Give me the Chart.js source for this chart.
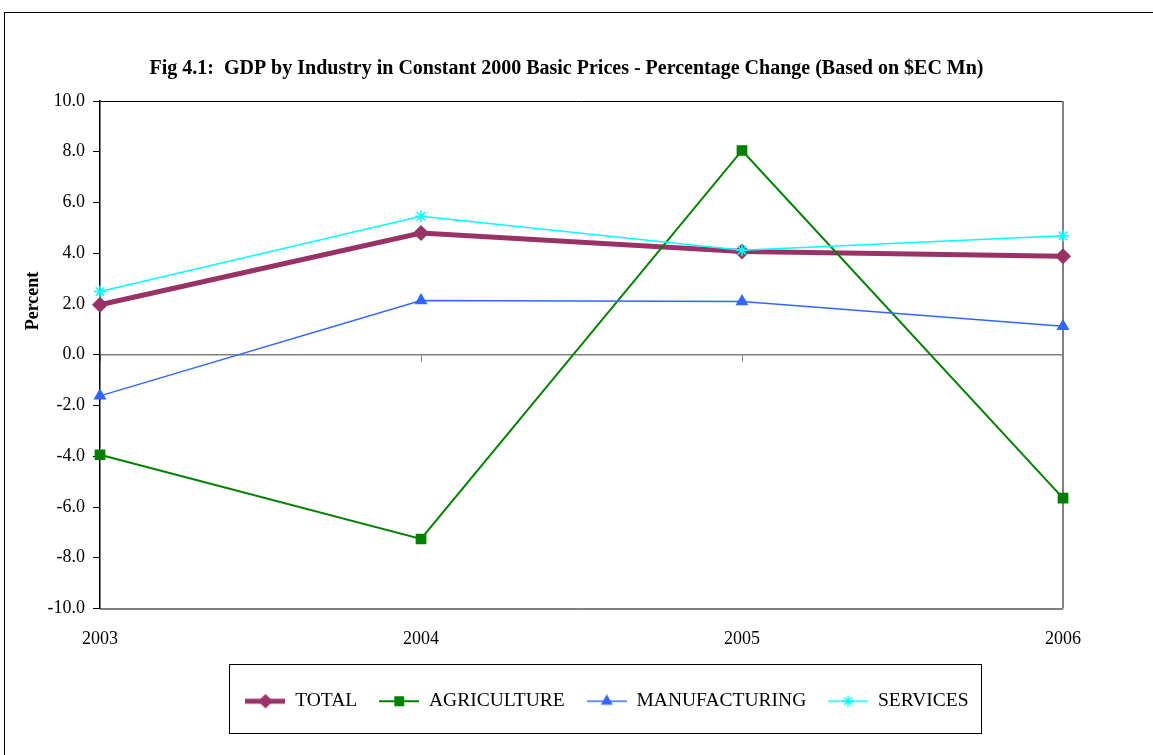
<!DOCTYPE html>
<html>
<head>
<meta charset="utf-8">
<script src="https://cdn.jsdelivr.net/npm/chart.js@4/dist/chart.umd.min.js"></script>
<style>
  html, body { margin: 0; padding: 0; background: #fff; }
  #wrap { position: relative; width: 1153px; height: 755px; }
</style>
</head>
<body>
<div id="wrap"><canvas id="c"></canvas></div>
<script>
// ---- data ----
const years = ['2003', '2004', '2005', '2006'];
const total = [1.97, 4.80, 4.07, 3.88];
const agriculture = [-3.94, -7.26, 8.05, -5.65];
const manufacturing = [-1.62, 2.14, 2.10, 1.12];
const services = [2.49, 5.46, 4.12, 4.69];
const seriesNames = ['TOTAL', 'AGRICULTURE', 'MANUFACTURING', 'SERVICES'];
const yTicks = [-10, -8, -6, -4, -2, 0, 2, 4, 6, 8, 10];
const titleText = 'Fig 4.1:  GDP by Industry in Constant 2000 Basic Prices - Percentage Change (Based on $EC Mn)';
const yTitle = 'Percent';

const FONT = "'Liberation Serif', 'Times New Roman', serif";

const styles = [
  { color: '#993366', width: 5, point: 'rectRot', radius: 7 },
  { color: '#008000', width: 2, point: 'rect', radius: 6.5 },
  { color: '#3366FF', width: 1.5, point: 'triangle', radius: 6 },
  { color: '#00FFFF', width: 1.5, point: 'star', radius: 6 }
];
const seriesData = [total, agriculture, manufacturing, services];

function makeSymbol(st) {
  const c = document.createElement('canvas');
  c.width = 40; c.height = 18;
  const ctx = c.getContext('2d');
  ctx.strokeStyle = st.color;
  ctx.lineWidth = st.width;
  ctx.beginPath(); ctx.moveTo(0, 9); ctx.lineTo(40, 9); ctx.stroke();
  ctx.fillStyle = st.color;
  ctx.strokeStyle = st.color;
  ctx.lineWidth = 1.5;
  Chart.helpers.drawPoint(ctx, { pointStyle: st.point, radius: st.radius * 0.9, borderWidth: 1.5, rotation: 0 }, 20, 9);
  return c;
}
const symbols = styles.map(makeSymbol);

const datasets = seriesNames.map((name, i) => ({
  label: name,
  data: seriesData[i],
  borderColor: styles[i].color,
  backgroundColor: styles[i].color,
  borderWidth: styles[i].width,
  pointStyle: styles[i].point,
  pointRadius: styles[i].radius,
  pointBorderWidth: 1.5,
  pointBackgroundColor: styles[i].color,
  pointBorderColor: styles[i].color,
  tension: 0,
  fill: false,
  clip: false,
  order: 3 - i
}));

const frame = {
  id: 'frame',
  beforeDraw(chart) {
    const ctx = chart.ctx;
    ctx.save();
    ctx.fillStyle = '#fff';
    ctx.fillRect(0, 0, chart.width, chart.height);
    ctx.strokeStyle = '#000';
    ctx.lineWidth = 1;
    ctx.strokeRect(4.5, 12.5, 1300, 900);
    ctx.restore();
  },
  beforeDatasetsDraw(chart) {
    const a = chart.chartArea, ctx = chart.ctx;
    ctx.save();
    ctx.lineWidth = 1;
    ctx.strokeStyle = '#000';
    ctx.beginPath();
    ctx.moveTo(a.left, a.top + 0.5); ctx.lineTo(a.right, a.top + 0.5);
    ctx.moveTo(a.left, a.bottom + 0.5); ctx.lineTo(a.right, a.bottom + 0.5);
    ctx.stroke();
    ctx.strokeStyle = '#808080';
    ctx.lineWidth = 2;
    ctx.beginPath();
    ctx.moveTo(a.right, a.top); ctx.lineTo(a.right, a.bottom);
    ctx.stroke();
    ctx.restore();
  },
  afterLayout(chart) {
    const L = chart.legend;
    if (L) { L.left = 180; L.right = 1034; L.width = 854; }
    const T = chart.titleBlock;
    if (T) { T.left += 35; T.right += 35; }
  },
  afterDraw(chart) {
    const ctx = chart.ctx, L = chart.legend;
    ctx.save();
    ctx.strokeStyle = '#000';
    ctx.lineWidth = 1;
    ctx.strokeRect(229.5, Math.round(L.top) - 5.5, 752, 69);
    // y-axis title
    ctx.fillStyle = '#000';
    ctx.font = 'bold 18px ' + FONT;
    ctx.textAlign = 'center';
    ctx.textBaseline = 'middle';
    ctx.translate(33, 301);
    ctx.rotate(-Math.PI / 2);
    ctx.fillText(yTitle, 0, 0);
    ctx.restore();
  }
};

new Chart(document.getElementById('c'), {
  type: 'line',
  data: { labels: years, datasets },
  plugins: [frame],
  options: {
    responsive: true,
    maintainAspectRatio: false,
    animation: false,
    layout: { padding: { left: 0, right: 90, top: 0, bottom: 34 } },
    plugins: {
      tooltip: { enabled: false },
      title: {
        display: true,
        text: titleText,
        color: '#000',
        font: { family: FONT, size: 20, weight: 'bold', lineHeight: 1.2 },
        padding: { top: 57, bottom: 20 }
      },
      legend: {
        position: 'bottom',
        labels: {
          usePointStyle: true,
          pointStyleWidth: 40,
          color: '#000',
          padding: 22,
          font: { family: FONT, size: 19.5 },
          generateLabels() {
            return seriesNames.map((n, i) => ({
              text: n,
              pointStyle: symbols[i],
              fillStyle: styles[i].color,
              strokeStyle: styles[i].color,
              lineWidth: 0,
              hidden: false,
              datasetIndex: i,
              fontColor: '#000'
            }));
          }
        }
      }
    },
    scales: {
      x: {
        type: 'category',
        position: 'bottom',
        offset: false,
        grid: { display: false, drawTicks: false },
        border: { display: false },
        ticks: { color: '#000', font: { family: FONT, size: 18 }, padding: 20, maxRotation: 0, autoSkip: false },
        afterFit(s) { s.height = 61; }
      },
      x0: {
        type: 'category',
        position: { y: 0 },
        offset: false,
        grid: { display: true, drawOnChartArea: false, drawTicks: true, tickLength: 6, color: '#808080' },
        border: { display: true, color: '#808080', width: 1.5 },
        ticks: { display: false }
      },
      y: {
        type: 'linear',
        min: -10,
        max: 10,
        afterBuildTicks(s) { s.ticks = yTicks.map(v => ({ value: v })); },
        grid: { drawOnChartArea: false, drawTicks: true, tickLength: 7, color: '#000' },
        border: { display: true, color: '#000', width: 1.5 },
        ticks: {
          color: '#000',
          font: { family: FONT, size: 18 },
          padding: 8,
          callback: v => Number(v).toFixed(1)
        },
        afterFit(s) { s.width = 100; }
      }
    }
  }
});
</script>
</body>
</html>
